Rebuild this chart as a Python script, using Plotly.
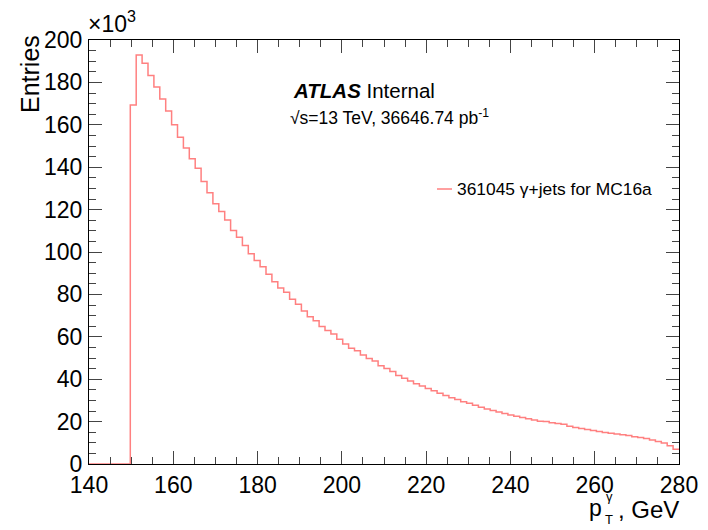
import plotly.graph_objects as go

# Histogram: 100 bins of 1.4 GeV from 140 to 280 GeV, entries in units of 10^3
bin_low = 140.0
bin_width = 1.4
entries_k = [
    0, 0, 0, 0, 0, 0, 0,
    169.3, 192.9, 189.0, 183.2, 177.8, 172.2, 166.5, 160.0, 154.1, 149.0,
    144.0, 139.5, 133.2, 128.0, 122.8, 119.1, 115.1, 110.2, 106.9, 103.1,
    99.2, 96.0, 93.0, 89.5, 86.0, 83.0, 81.0, 77.7, 75.3, 72.2,
    69.5, 67.6, 64.8, 63.0, 61.3, 58.8, 56.6, 54.6, 53.4, 51.4,
    49.8, 48.6, 46.4, 45.1, 43.6, 41.8, 40.5, 39.2, 37.8, 36.8,
    35.6, 34.5, 33.4, 32.3, 31.3, 30.4, 29.4, 28.6, 27.7, 26.8,
    26.0, 25.2, 24.5, 23.8, 23.1, 22.5, 21.9, 21.3, 20.7, 20.2,
    20.0, 19.5, 19.1, 18.7, 17.8, 17.2, 16.8, 16.3, 15.8, 15.3,
    14.9, 14.5, 14.1, 13.8, 13.4, 12.9, 12.5, 12.0, 11.3, 10.6,
    9.9, 8.6, 7.0,
]
x_ticks = [140, 160, 180, 200, 220, 240, 260, 280]
y_ticks = [0, 20, 40, 60, 80, 100, 120, 140, 160, 180, 200]

edges = [round(bin_low + i * bin_width, 4) for i in range(len(entries_k) + 1)]
yvals = entries_k + [entries_k[-1]]

FONT = "Liberation Sans, Arial, Helvetica, sans-serif"
LINE_COLOR = "#ff8080"

fig = go.Figure()
fig.add_trace(go.Scatter(
    x=edges, y=yvals, mode="lines", line=dict(shape="hv", color=LINE_COLOR, width=1.5),
    name="361045 γ+jets for MC16a", showlegend=False, hoverinfo="skip",
))

# page body adds an 8px offset; figure sized to fit the window
OFF = 8
W, H = 700, 522
L, R, T, B = 81, 29, 32, 66
pw, ph = W - L - R, H - T - B

def px(sx):
    return (sx - OFF - L) / pw

def py(sy):
    return (T + ph - (sy - OFF)) / ph

axis_common = dict(
    showgrid=False, zeroline=False, showline=True, linecolor="black", linewidth=1,
    mirror="ticks", ticks="inside", ticklen=13, tickwidth=1, tickcolor="#444",
    tickfont=dict(family=FONT, size=23, color="black"),
)

fig.update_xaxes(
    range=[140, 280], tickvals=x_ticks, ticktext=[str(v) for v in x_ticks],
    minor=dict(dtick=5, ticks="inside", ticklen=7, tickcolor="#444", tick0=140),
    **axis_common,
)
fig.update_yaxes(
    range=[0, 200], tickvals=y_ticks, ticktext=[str(v) for v in y_ticks],
    minor=dict(dtick=5, ticks="inside", ticklen=7, tickcolor="#444", tick0=0),
    ticklabelstandoff=1,
    **axis_common,
)

ann = []
ann.append(dict(text="×10<sup>3</sup>", x=px(86), y=py(39), xref="paper", yref="paper",
                xanchor="left", yanchor="bottom", showarrow=False,
                font=dict(family=FONT, size=23, color="black")))
ann.append(dict(text="Entries", x=px(30), y=py(33), xref="paper", yref="paper",
                xanchor="center", yanchor="top", textangle=-90, showarrow=False,
                font=dict(family=FONT, size=25, color="black")))
ann.append(dict(text="<b><i>ATLAS</i></b> Internal", x=px(291), y=py(91), xref="paper", yref="paper",
                xanchor="left", yanchor="middle", showarrow=False,
                font=dict(family=FONT, size=20.5, color="black")))
ann.append(dict(text="√s=13 TeV, 36646.74 pb<sup>-1</sup>", x=px(288), y=py(117), xref="paper", yref="paper",
                xanchor="left", yanchor="middle", showarrow=False,
                font=dict(family=FONT, size=17.5, color="black")))
ann.append(dict(text="361045 γ+jets for MC16a", x=px(455), y=py(189), xref="paper", yref="paper",
                xanchor="left", yanchor="middle", showarrow=False,
                font=dict(family=FONT, size=17.4, color="black")))
# x axis title: p_T^gamma, GeV
ann.append(dict(text=", GeV", x=px(681), y=py(510), xref="paper", yref="paper",
                xanchor="right", yanchor="middle", showarrow=False,
                font=dict(family=FONT, size=24, color="black")))
ann.append(dict(text="p", x=px(604), y=py(508), xref="paper", yref="paper",
                xanchor="right", yanchor="middle", showarrow=False,
                font=dict(family=FONT, size=23, color="black")))
ann.append(dict(text="γ", x=px(604), y=py(496), xref="paper", yref="paper",
                xanchor="left", yanchor="middle", showarrow=False,
                font=dict(family=FONT, size=13, color="black")))
ann.append(dict(text="T", x=px(603), y=py(519), xref="paper", yref="paper",
                xanchor="left", yanchor="middle", showarrow=False,
                font=dict(family=FONT, size=13, color="black")))

fig.update_layout(
    width=W, height=H, margin=dict(l=L, r=R, t=T, b=B, autoexpand=False),
    paper_bgcolor="white", plot_bgcolor="white",
    annotations=ann,
    shapes=[dict(type="line", xref="paper", yref="paper", x0=px(437), x1=px(452),
                 y0=py(189), y1=py(189), line=dict(color=LINE_COLOR, width=1.5))],
    font=dict(family=FONT),
)

fig.write_html("out.html")
